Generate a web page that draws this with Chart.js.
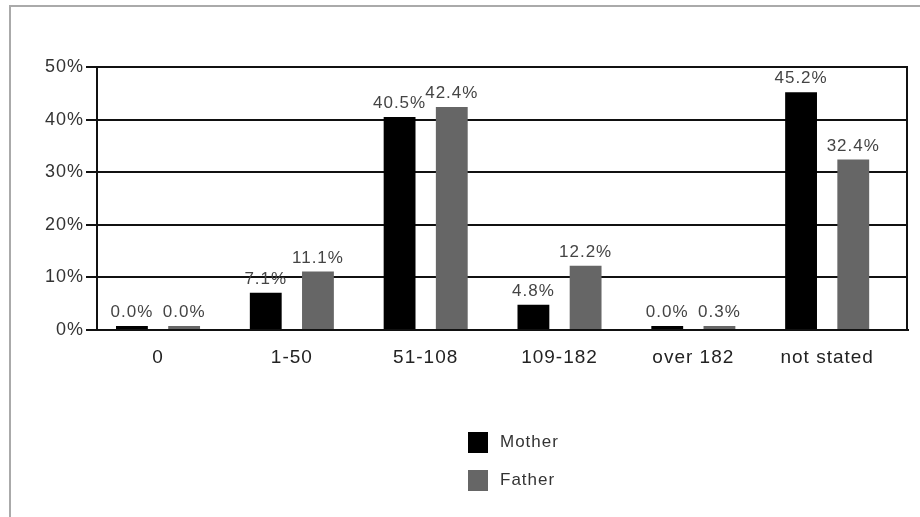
<!DOCTYPE html>
<html>
<head>
<meta charset="utf-8">
<script src="https://cdn.jsdelivr.net/npm/chart.js@4"></script>
<style>
  html, body { margin: 0; padding: 0; background: #fff; overflow: hidden; }
  #frame { position: absolute; left: 9px; top: 5px; width: 1000px; height: 700px; border: 2px solid #aaa; }
  #wrap { position: absolute; left: 0; top: 0; width: 920px; height: 517px; }
</style>
</head>
<body>
<div id="frame"></div>
<div id="wrap"><canvas id="chart" width="920" height="517"></canvas></div>
<script>
const categories = ['0', '1-50', '51-108', '109-182', 'over 182', 'not stated'];
const mother = [0.0, 7.1, 40.5, 4.8, 0.0, 45.2];
const father = [0.0, 11.1, 42.4, 12.2, 0.3, 32.4];
const yTicks = [0, 10, 20, 30, 40, 50];

const FONT = '"Liberation Sans", Arial, sans-serif';

// slightly uneven category spacing of the original (first group closer to the y axis)
const xRange = { start: -0.456, span: 6.06 };

const layoutFix = {
  id: 'layoutFix',
  afterLayout(chart) {
    const x = chart.scales.x;
    x._startValue = xRange.start;
    x._valueRange = xRange.span;
  },
  beforeDraw(chart) {
    // the original lettering runs a little wider than Arial
    chart.ctx.letterSpacing = '1px';
  }
};

const extras = {
  id: 'extras',
  afterDraw(chart) {
    const ctx = chart.ctx;
    const area = chart.chartArea;
    ctx.save();
    // right border of the plot
    ctx.strokeStyle = '#111';
    ctx.lineWidth = 2;
    ctx.beginPath();
    ctx.moveTo(area.right - 1, area.top - 1);
    ctx.lineTo(area.right - 1, area.bottom);
    ctx.stroke();

    // value labels
    ctx.font = '17px ' + FONT;
    ctx.fillStyle = '#444';
    ctx.textAlign = 'center';
    ctx.textBaseline = 'bottom';
    chart.data.datasets.forEach((ds, di) => {
      chart.getDatasetMeta(di).data.forEach((bar, i) => {
        ctx.fillText(ds.data[i].toFixed(1) + '%', bar.x, bar.y - 5);
      });
    });

    // legend, stacked vertically
    ctx.font = '17px ' + FONT;
    ctx.textAlign = 'left';
    ctx.textBaseline = 'middle';
    chart.data.datasets.forEach((ds, di) => {
      const cy = 442 + di * 38;
      ctx.fillStyle = ds.backgroundColor;
      ctx.fillRect(468, cy - 10, 20, 21);
      ctx.fillStyle = '#333';
      ctx.fillText(ds.label, 500, cy);
    });
    ctx.restore();
  }
};

new Chart(document.getElementById('chart'), {
  type: 'bar',
  data: {
    labels: categories,
    datasets: [
      { label: 'Mother', data: mother, backgroundColor: '#000000', minBarLength: 4 },
      { label: 'Father', data: father, backgroundColor: '#666666', minBarLength: 4 }
    ]
  },
  options: {
    responsive: false,
    animation: false,
    events: [],
    categoryPercentage: 0.78,
    barPercentage: 0.61,
    layout: { padding: { top: 67, right: 12, left: 0, bottom: 0 } },
    plugins: {
      legend: { display: false },
      tooltip: { enabled: false }
    },
    scales: {
      x: {
        grid: { display: false, tickLength: 0 },
        border: { color: '#111', width: 2 },
        ticks: { color: '#222', font: { family: FONT, size: 19 }, padding: 16, maxRotation: 0 },
        afterFit(scale) { scale.height = 187; }
      },
      y: {
        min: 0,
        max: 50,
        afterBuildTicks(scale) { scale.ticks = yTicks.map(v => ({ value: v })); },
        grid: { color: '#111', lineWidth: 2, tickLength: 11, drawTicks: true },
        border: { color: '#111', width: 2 },
        ticks: {
          color: '#333',
          font: { family: FONT, size: 18 },
          padding: 2,
          callback: v => v + '%'
        },
        afterFit(scale) { scale.width = 97; }
      }
    }
  },
  plugins: [layoutFix, extras]
});
</script>
</body>
</html>
